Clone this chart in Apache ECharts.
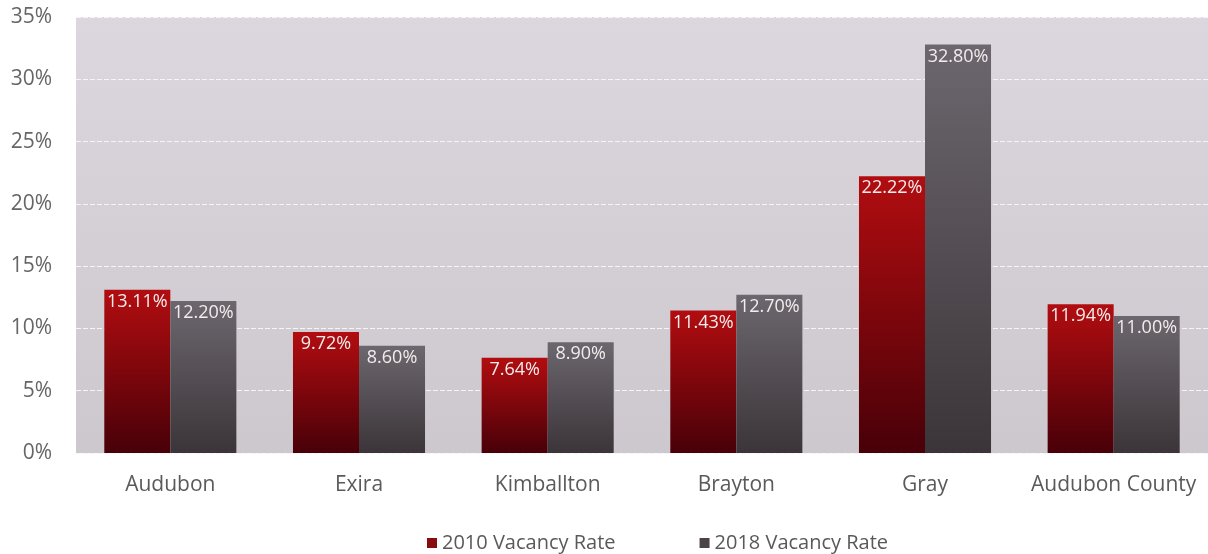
<!DOCTYPE html>
<html><head><meta charset="utf-8">
<script src="https://cdn.jsdelivr.net/npm/echarts@6/dist/echarts.min.js"></script>
<style>html,body{margin:0;padding:0;background:#fff}#c{width:1208px;height:554px}</style>
</head><body><div id="c"></div>
<script>
const categories = ['Audubon','Exira','Kimballton','Brayton','Gray','Audubon County'];
const rate2010 = [13.11, 9.72, 7.64, 11.43, 22.22, 11.94];
const rate2018 = [12.20, 8.60, 8.90, 12.70, 32.80, 11.00];
const yTicks = [0, 5, 10, 15, 20, 25, 30, 35];

const chart = echarts.init(document.getElementById('c'));
const font = '"Open Sans", sans-serif';
const redGrad = new echarts.graphic.LinearGradient(0,0,0,1,[{offset:0,color:'#b20d10'},{offset:1,color:'#480008'}]);
const grayGrad = new echarts.graphic.LinearGradient(0,0,0,1,[{offset:0,color:'#6c676e'},{offset:1,color:'#3b3539'}]);
const lbl = {show:true, position:'insideTop', distance:3, color:'#f3eced', fontSize:18, fontFamily:font,
  formatter: p => p.value.toFixed(2) + '%'};
chart.setOption({
  animation:false,
  backgroundColor:'#ffffff',
  grid:{left:76, right:0, top:17, bottom:101, show:true, borderWidth:0,
    backgroundColor:new echarts.graphic.LinearGradient(0,0,0,1,[{offset:0,color:'#dcd7de'},{offset:1,color:'#cdc8cd'}])},
  legend:{top:528, left:422, itemWidth:10, itemHeight:10, itemGap:84, icon:'rect',
    textStyle:{color:'#595959', fontSize:20, fontFamily:font},
    data:[{name:'2010 Vacancy Rate', itemStyle:{color:'#8a0a0e'}},{name:'2018 Vacancy Rate', itemStyle:{color:'#4a4448'}}]},
  xAxis:{type:'category', data:categories, axisLine:{show:false}, axisTick:{show:false},
    axisLabel:{color:'#5a5a5a', fontSize:21, fontFamily:font, margin:22, interval:0}},
  yAxis:{type:'value', min:0, max:35, interval:5,
    axisLabel:{color:'#666666', fontSize:21, fontFamily:font, margin:24, formatter: v => yTicks.includes(v) ? v + '%' : ''},
    splitLine:{lineStyle:{color:'#f6f4f6', width:1, type:[5,2]}}},
  series:[
    {name:'2010 Vacancy Rate', type:'bar', data:rate2010, barGap:'0%', barCategoryGap:'30%',
      itemStyle:{color:redGrad}, label:lbl},
    {name:'2018 Vacancy Rate', type:'bar', data:rate2018,
      itemStyle:{color:grayGrad}, label:lbl}
  ]
});
</script></body></html>
